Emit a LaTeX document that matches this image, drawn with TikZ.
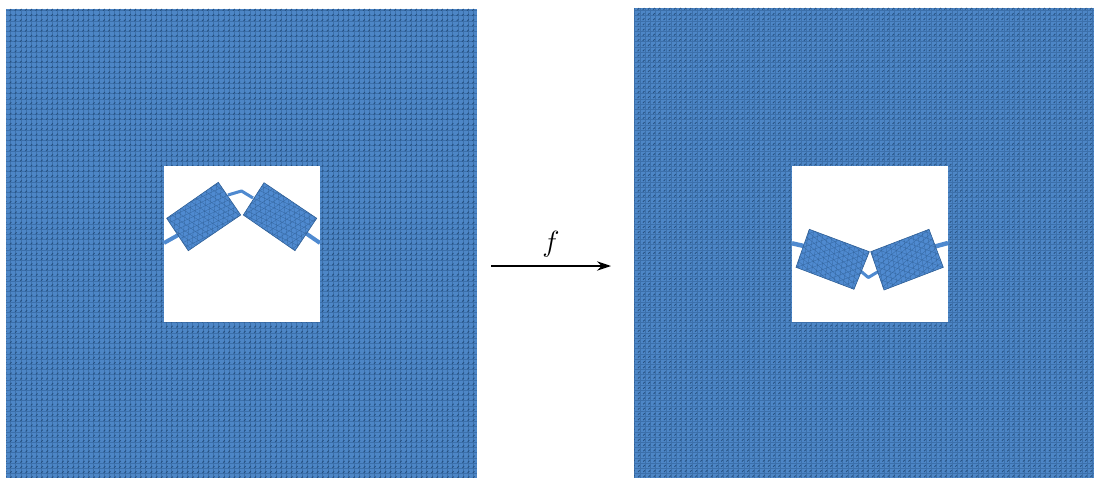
\documentclass[tikz,border=0pt]{standalone}
\usepackage{amsmath}
\usetikzlibrary{arrows.meta,positioning,calc}
\definecolor{meshfill}{HTML}{4D86C6}
\definecolor{meshline}{HTML}{2F5F96}
\definecolor{meshdark}{HTML}{1F4672}
\definecolor{bodyfill}{HTML}{4F8AD0}

% square sheet with a hole: x0, y0, x1, y1, hole x0, hole x1
\newcommand{\meshsheet}[6]{
  \fill[meshfill] (#1,#2) rectangle (#3,#4);
  \begin{scope}
    \clip (#1,#2) rectangle (#3,#4);
    \draw[sheetmesh] (#1,#2) grid[xstep=0.156cm,ystep=0.156cm] (#3,#4);
    \foreach \d in {0,5.2,...,960}
      \draw[sheetdash] ({#1+\d},#2) -- ({#1+\d-#4+#2},#4);
  \end{scope}
  \fill[white] (#5,166) rectangle (#6,322);
}
% mesh clipped to a polygon: rotation, rotation centre, path
\newcommand{\meshbody}[3]{
  \fill[bodyfill] #3;
  \begin{scope}
    \clip #3;
    \begin{scope}[rotate around={#1:(#2)}]
      \foreach \d in {-60,-54.5,...,60} {
        \draw[bodymesh] ($(#2)+(-80,\d)$) -- ($(#2)+(80,\d)$);
        \draw[bodymesh] ($(#2)+(\d-40,-70)$) -- ($(#2)+(\d+40,70)$);
        \draw[bodymesh] ($(#2)+(\d+40,-70)$) -- ($(#2)+(\d-40,70)$);
      }
    \end{scope}
  \end{scope}
  \draw[bodyedge] #3;
}

\begin{document}
\begin{tikzpicture}[
  x=0.03cm, y=-0.03cm,
  sheetmesh/.style={line width=0.2pt, meshline, opacity=0.55},
  sheetdash/.style={line width=0.75pt, meshdark, opacity=0.8, dash pattern=on 2pt off 4.27pt},
  bodymesh/.style={line width=0.3pt, meshline, opacity=0.75},
  bodyedge/.style={line width=0.5pt, meshline},
  hinge/.style={line width=2.6pt, bodyfill, line join=round},
  arr/.style={-{Stealth[length=12pt,width=8pt]}, line width=1.2pt, black}
]
  \useasboundingbox (0,0) rectangle (1094,478);

  \meshsheet{6}{9}{477}{478}{164}{320}
  \meshsheet{634}{8}{1094}{478}{792}{948}

  % left state
  \draw[hinge, line width=3.4pt] (180,234) -- (164,243);
  \draw[hinge, line width=3.4pt] (304,232) -- (320,243);
  \draw[hinge] (228,195) -- (241.5,191) -- (253,198);
  \meshbody{-35}{203.7,216.5}{(218.3,182.3) -- (240.7,215) -- (188.3,250.7) -- (166.7,218.3) -- cycle}
  \meshbody{35}{280,216.5}{(264,182.7) -- (316.7,218.3) -- (295,250.7) -- (243.3,215) -- cycle}

  % right state
  \draw[hinge, line width=3.8pt] (792,243.3) -- (806,246.5);
  \draw[hinge, line width=3.8pt] (948,243) -- (933,247);
  \draw[hinge] (860,270.5) -- (868.3,277.5) -- (880,270.5);
  \meshbody{20}{832.6,259.5}{(809.3,229.3) -- (869.3,251.7) -- (854,289.3) -- (796,267.3) -- cycle}
  \meshbody{-20}{907,259.7}{(870.7,251.7) -- (929,229.3) -- (943.3,267.3) -- (884,290) -- cycle}

  \coordinate (arrstart) at (491,266);
  \coordinate (arrend) at (611,266);
  \draw[arr] (arrstart) -- (arrend);
  \node[font=\fontsize{23}{23}\selectfont, inner sep=0pt, above=7pt of $(arrstart)!0.5!(arrend)$] (flabel) {$f$};
\end{tikzpicture}
\end{document}
